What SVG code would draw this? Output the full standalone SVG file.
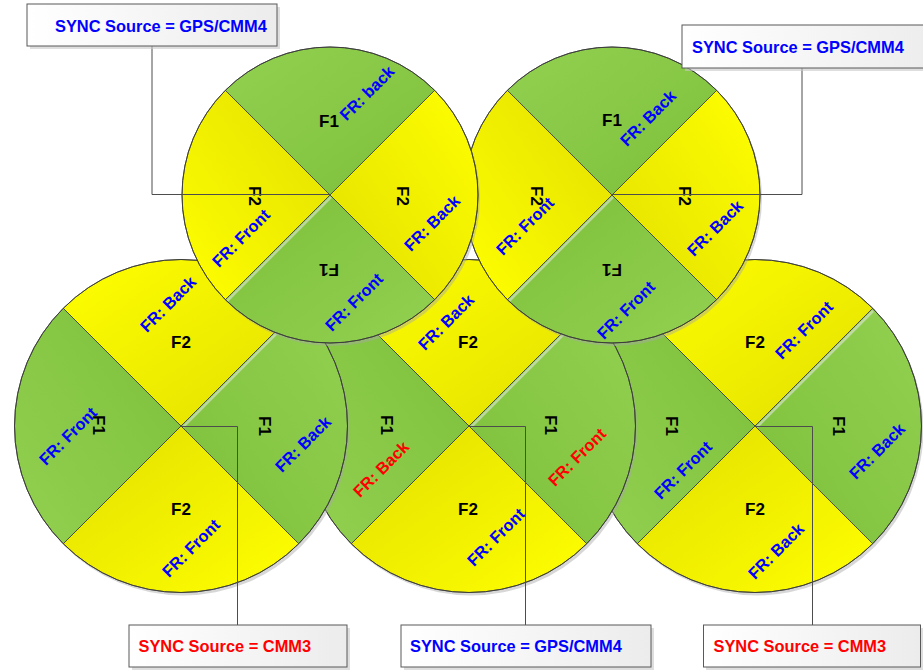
<svg xmlns="http://www.w3.org/2000/svg" xmlns:xlink="http://www.w3.org/1999/xlink" width="923" height="671" viewBox="0 0 923 671">
<style>
text{font-family:"Liberation Sans",Arial,sans-serif;font-weight:bold;text-anchor:middle}
.f{font-size:17px;fill:#000}
.fb{font-size:16.4px;fill:#0000FF}
.fr{font-size:16.4px;fill:#FF0000}
.st{font-size:16.4px;text-anchor:start}
.q{stroke:#3a3a3a;stroke-width:0.8}
.rim{fill:none;stroke:#3a3a3a;stroke-width:0.9}
.sh{fill:#A6A6A6;opacity:0.45}
.hl{stroke:#E8E8E8;stroke-width:2.5;opacity:0.55}
.box{fill:url(#gBox);stroke:#595959;stroke-width:1}
.bsh{fill:#C8C8C8;opacity:0.6}
.con{fill:none;stroke:#4d4d4d;stroke-width:1}
</style>
<defs>
<linearGradient id="gY" x1="0" y1="0" x2="1" y2="1">
<stop offset="0" stop-color="#FFFF00"/><stop offset="1" stop-color="#E2DF00"/>
</linearGradient>
<linearGradient id="gG" x1="0" y1="0" x2="1" y2="1">
<stop offset="0" stop-color="#93D051"/><stop offset="1" stop-color="#7CC03A"/>
</linearGradient>
<linearGradient id="gBox" x1="0" y1="0" x2="1" y2="0">
<stop offset="0" stop-color="#FFFFFF"/><stop offset="1" stop-color="#ECECEC"/>
</linearGradient>
<path id="qS" d="M0,0 L-104.65,-104.65 A148,148 0 0 1 104.65,-104.65 Z"/>
<path id="qL" d="M0,0 L-117.73,-117.73 A166.5,166.5 0 0 1 117.73,-117.73 Z"/>
</defs>
<rect width="923" height="671" fill="#FFFFFF"/>

<g id="cell-bottom-right">
<circle class="sh" cx="757" cy="429" r="166.5"/>
<g transform="translate(755,426)">
<use xlink:href="#qL" class="q" fill="url(#gY)"/>
<use xlink:href="#qL" class="q" fill="url(#gG)" transform="rotate(90)"/>
<use xlink:href="#qL" class="q" fill="url(#gY)" transform="rotate(180)"/>
<use xlink:href="#qL" class="q" fill="url(#gG)" transform="rotate(270)"/>
<line class="hl" x1="2" y1="1" x2="118" y2="-115"/>
<circle class="rim" r="166.5"/>
</g>
<text class="f" transform="translate(755,342)" dy=".35em">F2</text>
<text class="fb" transform="translate(804,330) rotate(-45)" dy=".35em">FR: Front</text>
<text class="f" transform="translate(672,426) rotate(90)" dy=".35em">F1</text>
<text class="fb" transform="translate(683,470) rotate(-45)" dy=".35em">FR: Front</text>
<text class="f" transform="translate(839,426) rotate(90)" dy=".35em">F1</text>
<text class="fb" transform="translate(877,451) rotate(-45)" dy=".35em">FR: Back</text>
<text class="f" transform="translate(755,509)" dy=".35em">F2</text>
<text class="fb" transform="translate(776,551) rotate(-45)" dy=".35em">FR: Back</text>
</g>

<g id="cell-bottom-middle">
<circle class="sh" cx="471" cy="429" r="166.5"/>
<g transform="translate(469,426)">
<use xlink:href="#qL" class="q" fill="url(#gY)"/>
<use xlink:href="#qL" class="q" fill="url(#gG)" transform="rotate(90)"/>
<use xlink:href="#qL" class="q" fill="url(#gY)" transform="rotate(180)"/>
<use xlink:href="#qL" class="q" fill="url(#gG)" transform="rotate(270)"/>
<line class="hl" x1="2" y1="1" x2="118" y2="-115"/>
<circle class="rim" r="166.5"/>
</g>
<text class="fb" transform="translate(446,322) rotate(-45)" dy=".35em">FR: Back</text>
<text class="f" transform="translate(468,342)" dy=".35em">F2</text>
<text class="f" transform="translate(387,425) rotate(90)" dy=".35em">F1</text>
<text class="fr" transform="translate(381,469) rotate(-45)" dy=".35em">FR: Back</text>
<text class="f" transform="translate(551,425) rotate(90)" dy=".35em">F1</text>
<text class="fr" transform="translate(577,457) rotate(-45)" dy=".35em">FR: Front</text>
<text class="f" transform="translate(468,509)" dy=".35em">F2</text>
<text class="fb" transform="translate(496,537) rotate(-45)" dy=".35em">FR: Front</text>
</g>

<g id="cell-bottom-left">
<circle class="sh" cx="183" cy="429" r="166.5"/>
<g transform="translate(181,426)">
<use xlink:href="#qL" class="q" fill="url(#gY)"/>
<use xlink:href="#qL" class="q" fill="url(#gG)" transform="rotate(90)"/>
<use xlink:href="#qL" class="q" fill="url(#gY)" transform="rotate(180)"/>
<use xlink:href="#qL" class="q" fill="url(#gG)" transform="rotate(270)"/>
<line class="hl" x1="2" y1="1" x2="118" y2="-115"/>
<circle class="rim" r="166.5"/>
</g>
<text class="fb" transform="translate(168,304) rotate(-45)" dy=".35em">FR: Back</text>
<text class="f" transform="translate(181,342)" dy=".35em">F2</text>
<text class="f" transform="translate(99,425) rotate(90)" dy=".35em">F1</text>
<text class="fb" transform="translate(68,436) rotate(-45)" dy=".35em">FR: Front</text>
<text class="f" transform="translate(265,426) rotate(90)" dy=".35em">F1</text>
<text class="fb" transform="translate(303,444) rotate(-45)" dy=".35em">FR: Back</text>
<text class="f" transform="translate(181,509)" dy=".35em">F2</text>
<text class="fb" transform="translate(191,548) rotate(-45)" dy=".35em">FR: Front</text>
</g>

<g id="cell-top-right">
<circle class="sh" cx="614" cy="198" r="148"/>
<g transform="translate(612,195)">
<use xlink:href="#qS" class="q" fill="url(#gG)"/>
<use xlink:href="#qS" class="q" fill="url(#gY)" transform="rotate(90)"/>
<use xlink:href="#qS" class="q" fill="url(#gG)" transform="rotate(180)"/>
<use xlink:href="#qS" class="q" fill="url(#gY)" transform="rotate(270)"/>
<line class="hl" x1="1" y1="2" x2="-103" y2="106"/>
<circle class="rim" r="148"/>
</g>
<text class="f" transform="translate(612,120)" dy=".35em">F1</text>
<text class="fb" transform="translate(648,118) rotate(-45)" dy=".35em">FR: Back</text>
<text class="f" transform="translate(537,196) rotate(90)" dy=".35em">F2</text>
<text class="fb" transform="translate(525,226) rotate(-45)" dy=".35em">FR: Front</text>
<text class="f" transform="translate(685,196) rotate(90)" dy=".35em">F2</text>
<text class="fb" transform="translate(715,228) rotate(-45)" dy=".35em">FR: Back</text>
<text class="f" transform="translate(612,270) rotate(180)" dy=".35em">F1</text>
<text class="fb" transform="translate(626,310) rotate(-45)" dy=".35em">FR: Front</text>
</g>

<g id="cell-top-left">
<circle class="sh" cx="332" cy="198" r="148"/>
<g transform="translate(330,195)">
<use xlink:href="#qS" class="q" fill="url(#gG)"/>
<use xlink:href="#qS" class="q" fill="url(#gY)" transform="rotate(90)"/>
<use xlink:href="#qS" class="q" fill="url(#gG)" transform="rotate(180)"/>
<use xlink:href="#qS" class="q" fill="url(#gY)" transform="rotate(270)"/>
<line class="hl" x1="1" y1="2" x2="-103" y2="106"/>
<circle class="rim" r="148"/>
</g>
<text class="f" transform="translate(329,121)" dy=".35em">F1</text>
<text class="fb" transform="translate(367,93) rotate(-45)" dy=".35em">FR: back</text>
<text class="f" transform="translate(255,196) rotate(90)" dy=".35em">F2</text>
<text class="fb" transform="translate(241,238) rotate(-45)" dy=".35em">FR: Front</text>
<text class="f" transform="translate(403,196) rotate(90)" dy=".35em">F2</text>
<text class="fb" transform="translate(432,223) rotate(-45)" dy=".35em">FR: Back</text>
<text class="f" transform="translate(329,270) rotate(180)" dy=".35em">F1</text>
<text class="fb" transform="translate(354,302) rotate(-45)" dy=".35em">FR: Front</text>
</g>

<g id="connectors">
<polyline class="con" points="152,46 152,194.5 330,194.5"/>
<polyline class="con" points="802,68 802,194.5 612,194.5"/>
<polyline class="con" points="181,426.5 237.5,426.5 237.5,625"/>
<polyline class="con" points="469,426.5 525.5,426.5 525.5,625"/>
<polyline class="con" points="755,426.5 812.5,426.5 812.5,625"/>
</g>

<g id="sync-top-left">
<rect class="bsh" x="30" y="7" width="250" height="42"/>
<rect class="box" x="27" y="4" width="250" height="42"/>
<text class="st" x="55" y="31.5" fill="#0000FF">SYNC Source = GPS/CMM4</text>
</g>
<g id="sync-top-right">
<rect class="bsh" x="685" y="28" width="260" height="43"/>
<rect class="box" x="682" y="25" width="260" height="43"/>
<text class="st" x="692" y="53" fill="#0000FF">SYNC Source = GPS/CMM4</text>
</g>
<g id="sync-bottom-left">
<rect class="bsh" x="132" y="628" width="218" height="42"/>
<rect class="box" x="129" y="625" width="218" height="42"/>
<text class="st" x="138.5" y="651.5" fill="#FF0000">SYNC Source = CMM3</text>
</g>
<g id="sync-bottom-middle">
<rect class="bsh" x="404" y="628" width="250" height="42"/>
<rect class="box" x="401" y="625" width="250" height="42"/>
<text class="st" x="410" y="651.5" fill="#0000FF">SYNC Source = GPS/CMM4</text>
</g>
<g id="sync-bottom-right">
<rect class="bsh" x="706" y="628" width="217" height="42"/>
<rect class="box" x="703.5" y="625" width="217" height="42"/>
<text class="st" x="713.5" y="651.5" fill="#FF0000">SYNC Source = CMM3</text>
</g>
</svg>
